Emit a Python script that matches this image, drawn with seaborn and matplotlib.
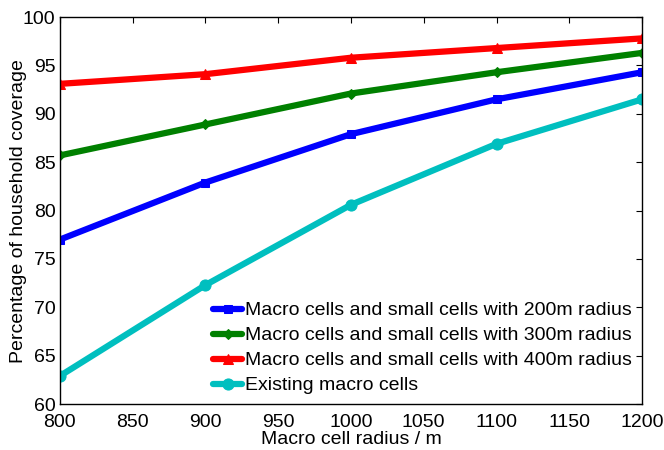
import pandas as pd
import matplotlib
matplotlib.use('Agg')
import matplotlib.pyplot as plt
import seaborn as sns

radius = [800, 900, 1000, 1100, 1200]
cov_200 = [77.0, 82.9, 87.9, 91.5, 94.3]
cov_300 = [85.7, 88.9, 92.1, 94.3, 96.3]
cov_400 = [93.1, 94.1, 95.8, 96.8, 97.8]
cov_macro = [62.9, 72.3, 80.6, 86.9, 91.5]

labels = [
    'Macro cells and small cells with 200m radius',
    'Macro cells and small cells with 300m radius',
    'Macro cells and small cells with 400m radius',
    'Existing macro cells',
]
colors = ['#0000ff', '#008000', '#ff0000', '#00bfbf']
markers = ['s', 'D', '^', 'o']
msizes = [5.5, 5, 7, 8]

rows = []
for lab, vals in zip(labels, [cov_200, cov_300, cov_400, cov_macro]):
    for r, v in zip(radius, vals):
        rows.append({'radius': r, 'coverage': v, 'series': lab})
df = pd.DataFrame(rows)

sns.set_theme(style='white')
plt.rcParams['font.family'] = ['Liberation Sans', 'DejaVu Sans']
plt.rcParams['text.color'] = 'black'
plt.rcParams['axes.labelcolor'] = 'black'

fig = plt.figure(figsize=(6.64, 4.5), dpi=100)
ax = fig.add_axes([0.09, 0.102, 0.877, 0.86])

for lab, c, m, ms in zip(labels, colors, markers, msizes):
    sns.lineplot(data=df[df['series'] == lab], x='radius', y='coverage', color=c,
                 marker=m, markersize=ms, markeredgecolor=c, linewidth=4.5, label=lab, ax=ax)

ax.set_xlim(800, 1200)
ax.set_ylim(60, 100)
ax.set_xticks(range(800, 1201, 50))
ax.set_yticks(range(60, 101, 5))
ax.tick_params(direction='in', top=True, right=True, labelsize=14, length=4, width=0.8, colors='black')
ax.tick_params(axis='x', pad=7)
ax.tick_params(axis='y', pad=3)
for s in ax.spines.values():
    s.set_color('black')
    s.set_linewidth(1)
ax.set_xlabel('Macro cell radius / m', fontsize=14, labelpad=0)
ax.set_ylabel('Percentage of household coverage', fontsize=14, labelpad=-3)
leg = ax.legend(loc='lower right', frameon=False, fontsize=14, handlelength=1.45,
                handletextpad=0.2, labelspacing=0.38, borderaxespad=0.1)
for t in leg.get_texts():
    t.set_color('black')

fig.savefig('out.png', dpi=100)
